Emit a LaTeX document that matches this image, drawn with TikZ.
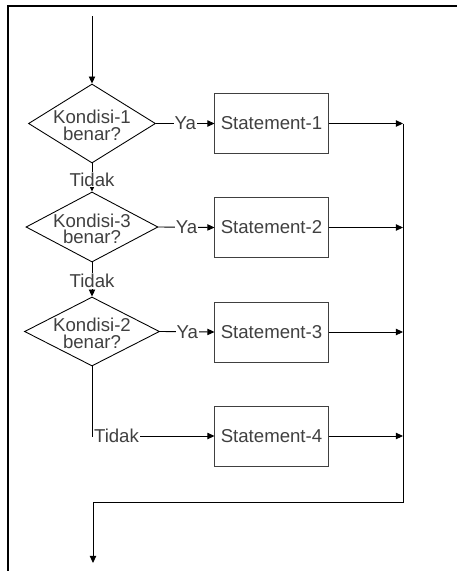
\documentclass[tikz,border=0pt]{standalone}
\usepackage{fontspec}
\setmainfont{Liberation Sans}
\usetikzlibrary{shapes.geometric,arrows.meta}

\begin{document}
\begin{tikzpicture}[
		font=\fontsize{10.6pt}{9.4pt}\selectfont,
		kondisi/.style={diamond, draw, line width=0.5pt, inner sep=0pt, minimum width=2.64cm, minimum height=1.45cm},
		statement/.style={rectangle, draw=black!75, line width=0.5pt, minimum width=2.14cm, minimum height=1.2cm, text=black!75},
		garis/.style={line width=0.5pt, -{Triangle[length=4pt,width=3.6pt]}},
		ket/.style={fill=white, inner sep=0.5pt, text=black!75}
	]
		
		\useasboundingbox (0,0) rectangle (9.14,-11.42);
		
		% bingkai
		\draw[line width = 0.04cm] (0.164,-11.42) -- (0.164,-0.116) -- (9.14,-0.116);
		
		% kondisi
		\node[kondisi, minimum width=2.54cm, minimum height=1.58cm, label={[align=center, text=black!75, yshift=-1pt]center:Kondisi-1\\benar?}] (k1) at (1.84,-2.47) {};
		\node[kondisi, minimum width=2.64cm, minimum height=1.40cm, label={[align=center, text=black!75, yshift=-1pt]center:Kondisi-3\\benar?}] (k2) at (1.84,-4.54) {};
		\node[kondisi, minimum width=2.70cm, minimum height=1.38cm, label={[align=center, text=black!75, yshift=-1pt]center:Kondisi-2\\benar?}] (k3) at (1.84,-6.63) {};
		
		% statement
		\node[statement] (s1) at (5.43,-2.47) {Statement-1};
		\node[statement] (s2) at (5.43,-4.55) {Statement-2};
		\node[statement] (s3) at (5.43,-6.64) {Statement-3};
		\node[statement] (s4) at (5.43,-8.72) {Statement-4};
		
		% titik bantu
		\coordinate (mulai) at (1.84,-0.32);
		\coordinate (j1) at (8.06,-2.47);
		\coordinate (j2) at (8.06,-4.55);
		\coordinate (j3) at (8.06,-6.64);
		\coordinate (j4) at (8.06,-8.72);
		\coordinate (j5) at (8.06,-10.04);
		\coordinate (j6) at (1.86,-10.04);
		\coordinate (selesai) at (1.86,-11.26);
		
		% alur
		\draw[garis] (mulai) -- (k1.north);
		
		\draw[garis] (k1.east) -- node[ket] {Ya} (s1.west);
		\draw[garis] (k2.east) -- node[ket] {Ya} (s2.west);
		\draw[garis] (k3.east) -- node[ket] {Ya} (s3.west);
		
		\draw[garis] (k1.south) -- node[ket, pos=0.58] {Tidak} (k2.north);
		\draw[garis] (k2.south) -- node[ket, pos=0.55] {Tidak} (k3.north);
		\draw[garis] (k3.south) |- node[ket, pos=0.6] {Tidak} (s4.west);
		
		\draw[garis] (s1.east) -- (j1);
		\draw[garis] (s2.east) -- (j2);
		\draw[garis] (s3.east) -- (j3);
		\draw[garis] (s4.east) -- (j4);
		
		\draw[garis] (j1) -- (j5) -- (j6) -- (selesai);
		
	\end{tikzpicture}
\end{document}
